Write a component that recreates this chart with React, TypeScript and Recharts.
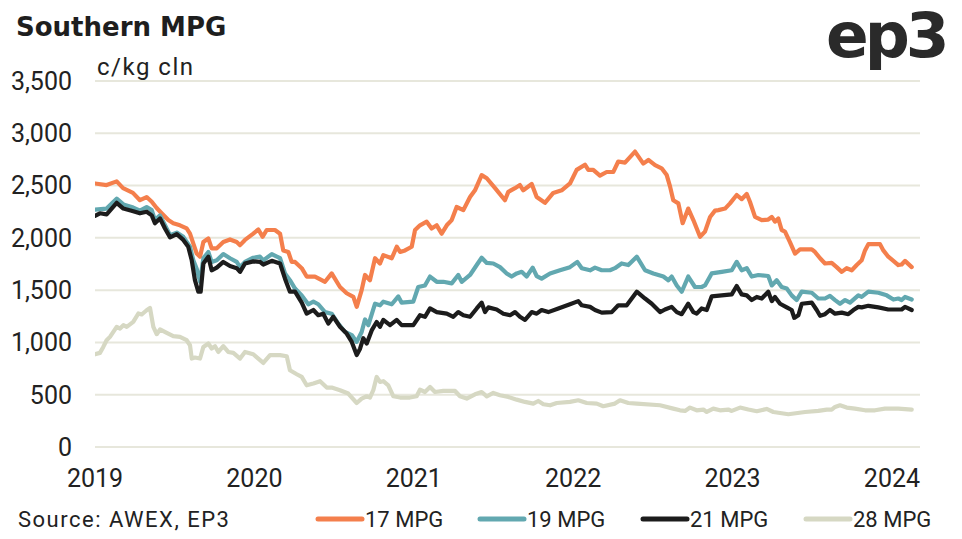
import React from 'react';
import { LineChart, Line, XAxis, YAxis, CartesianGrid } from 'recharts';

// ---- data (offset in years from 1 Jan 2019, c/kg clean) ----
const START_YEAR = 2019;
const xTicks = [2019, 2020, 2021, 2022, 2023, 2024];
const yTicks = [0, 500, 1000, 1500, 2000, 2500, 3000, 3500];
const seriesNames = ['17 MPG', '19 MPG', '21 MPG', '28 MPG'];
const seriesKeys = ['m17', 'm19', 'm21', 'm28'];
const seriesColors = ['#F47F4C', '#62A8B0', '#1C1C1C', '#D6D8C3'];

const mpg17: [number, number][] = [
  [0, 2520], [0.073, 2505], [0.136, 2540], [0.176, 2475], [0.238, 2430], [0.282, 2360], [0.324, 2390], [0.356, 2345], [0.387, 2285], [0.418, 2235], [0.46, 2170], [0.491, 2140], [0.533, 2120], [0.575, 2090], [0.596, 2040], [0.617, 1945], [0.638, 1850], [0.659, 1820], [0.68, 1960], [0.711, 1995], [0.732, 1900], [0.764, 1900], [0.805, 1960], [0.847, 1985], [0.889, 1960], [0.91, 1930], [0.941, 1980], [0.993, 2040], [1.025, 2080], [1.052, 2010], [1.077, 2075], [1.129, 2075], [1.161, 2040], [1.181, 1880], [1.213, 1865], [1.234, 1770], [1.255, 1770], [1.297, 1710], [1.328, 1630], [1.38, 1630], [1.443, 1580], [1.485, 1660], [1.537, 1530], [1.579, 1470], [1.621, 1435], [1.642, 1340], [1.673, 1500], [1.694, 1645], [1.725, 1595], [1.757, 1805], [1.788, 1755], [1.809, 1835], [1.862, 1805], [1.893, 1915], [1.914, 1865], [1.945, 1880], [1.987, 1915], [2.008, 2075], [2.039, 2120], [2.081, 2155], [2.112, 2090], [2.144, 2120], [2.175, 2040], [2.207, 2120], [2.238, 2170], [2.269, 2295], [2.311, 2265], [2.353, 2390], [2.384, 2455], [2.426, 2600], [2.458, 2570], [2.51, 2475], [2.572, 2360], [2.593, 2440], [2.635, 2475], [2.666, 2505], [2.687, 2455], [2.74, 2515], [2.771, 2390], [2.823, 2335], [2.875, 2430], [2.928, 2455], [2.98, 2520], [3.022, 2650], [3.074, 2700], [3.095, 2650], [3.126, 2650], [3.168, 2595], [3.21, 2630], [3.252, 2630], [3.283, 2730], [3.325, 2720], [3.388, 2825], [3.44, 2710], [3.472, 2745], [3.514, 2695], [3.555, 2665], [3.587, 2600], [3.608, 2490], [3.628, 2360], [3.66, 2330], [3.687, 2140], [3.722, 2280], [3.754, 2170], [3.796, 2010], [3.827, 2060], [3.859, 2200], [3.89, 2260], [3.911, 2265], [3.953, 2280], [3.984, 2330], [4.026, 2410], [4.057, 2370], [4.089, 2420], [4.109, 2345], [4.141, 2200], [4.183, 2170], [4.224, 2175], [4.246, 2200], [4.266, 2155], [4.287, 2185], [4.308, 2075], [4.329, 2060], [4.36, 1960], [4.392, 1850], [4.423, 1890], [4.497, 1890], [4.517, 1865], [4.549, 1805], [4.58, 1755], [4.622, 1760], [4.653, 1720], [4.685, 1675], [4.716, 1710], [4.748, 1690], [4.779, 1740], [4.81, 1785], [4.831, 1880], [4.852, 1940], [4.925, 1940], [4.946, 1880], [4.977, 1820], [5.009, 1780], [5.04, 1740], [5.061, 1745], [5.082, 1780], [5.124, 1720],
];

const mpg19: [number, number][] = [
  [0, 2270], [0.073, 2280], [0.136, 2375], [0.178, 2320], [0.24, 2290], [0.282, 2260], [0.324, 2295], [0.356, 2265], [0.376, 2170], [0.408, 2215], [0.439, 2120], [0.471, 2025], [0.513, 2050], [0.554, 2010], [0.596, 1915], [0.617, 1785], [0.638, 1705], [0.659, 1580], [0.68, 1805], [0.711, 1865], [0.732, 1770], [0.764, 1785], [0.805, 1845], [0.847, 1805], [0.889, 1770], [0.91, 1720], [0.941, 1770], [0.993, 1810], [1.035, 1820], [1.056, 1785], [1.109, 1845], [1.161, 1805], [1.192, 1660], [1.223, 1595], [1.255, 1515], [1.297, 1450], [1.338, 1365], [1.37, 1390], [1.401, 1365], [1.443, 1290], [1.485, 1275], [1.526, 1180], [1.569, 1100], [1.611, 1070], [1.642, 1005], [1.673, 1100], [1.694, 1220], [1.715, 1165], [1.757, 1370], [1.788, 1355], [1.809, 1390], [1.862, 1365], [1.903, 1440], [1.924, 1380], [1.997, 1390], [2.028, 1530], [2.07, 1545], [2.102, 1630], [2.144, 1580], [2.185, 1580], [2.238, 1565], [2.279, 1645], [2.301, 1580], [2.353, 1645], [2.395, 1740], [2.426, 1810], [2.458, 1760], [2.499, 1755], [2.541, 1720], [2.583, 1660], [2.614, 1630], [2.646, 1660], [2.677, 1675], [2.708, 1630], [2.746, 1715], [2.771, 1635], [2.802, 1610], [2.855, 1660], [2.917, 1690], [2.98, 1720], [3.026, 1770], [3.054, 1710], [3.106, 1690], [3.137, 1715], [3.179, 1690], [3.231, 1690], [3.262, 1710], [3.304, 1755], [3.346, 1740], [3.399, 1820], [3.451, 1690], [3.503, 1660], [3.566, 1630], [3.597, 1595], [3.618, 1630], [3.65, 1545], [3.681, 1485], [3.722, 1630], [3.764, 1530], [3.806, 1530], [3.827, 1545], [3.869, 1660], [3.932, 1675], [3.995, 1690], [4.026, 1770], [4.057, 1690], [4.089, 1710], [4.12, 1630], [4.162, 1645], [4.224, 1635], [4.246, 1545], [4.277, 1595], [4.308, 1530], [4.34, 1515], [4.371, 1450], [4.402, 1405], [4.434, 1485], [4.497, 1475], [4.538, 1420], [4.58, 1420], [4.611, 1445], [4.643, 1405], [4.674, 1370], [4.706, 1405], [4.737, 1380], [4.789, 1450], [4.81, 1435], [4.852, 1485], [4.915, 1475], [4.967, 1450], [5.009, 1410], [5.04, 1420], [5.061, 1405], [5.082, 1435], [5.124, 1410],
];

const mpg21: [number, number][] = [
  [0, 2210], [0.031, 2235], [0.073, 2225], [0.136, 2335], [0.178, 2280], [0.24, 2255], [0.282, 2235], [0.324, 2250], [0.356, 2215], [0.376, 2140], [0.408, 2185], [0.439, 2090], [0.471, 2005], [0.513, 2035], [0.554, 1980], [0.585, 1915], [0.607, 1785], [0.627, 1595], [0.648, 1485], [0.663, 1485], [0.68, 1755], [0.711, 1820], [0.732, 1690], [0.764, 1715], [0.805, 1770], [0.847, 1730], [0.889, 1710], [0.91, 1675], [0.941, 1755], [0.993, 1775], [1.035, 1770], [1.056, 1745], [1.109, 1780], [1.161, 1755], [1.192, 1610], [1.223, 1485], [1.255, 1485], [1.297, 1380], [1.328, 1275], [1.37, 1310], [1.401, 1260], [1.432, 1275], [1.464, 1180], [1.495, 1245], [1.537, 1150], [1.579, 1085], [1.611, 1005], [1.642, 880], [1.663, 940], [1.683, 1040], [1.705, 990], [1.736, 1115], [1.767, 1195], [1.788, 1150], [1.809, 1215], [1.851, 1165], [1.893, 1215], [1.924, 1165], [1.997, 1165], [2.039, 1260], [2.07, 1245], [2.102, 1325], [2.144, 1290], [2.207, 1275], [2.248, 1245], [2.279, 1290], [2.311, 1260], [2.353, 1245], [2.395, 1325], [2.426, 1380], [2.447, 1290], [2.468, 1335], [2.52, 1315], [2.562, 1275], [2.604, 1260], [2.635, 1290], [2.666, 1245], [2.698, 1215], [2.74, 1290], [2.771, 1275], [2.802, 1310], [2.844, 1290], [2.907, 1325], [2.98, 1365], [3.032, 1395], [3.054, 1355], [3.106, 1340], [3.137, 1310], [3.179, 1285], [3.242, 1290], [3.283, 1355], [3.336, 1355], [3.399, 1485], [3.451, 1420], [3.493, 1370], [3.545, 1290], [3.576, 1315], [3.618, 1340], [3.65, 1290], [3.681, 1270], [3.722, 1370], [3.754, 1290], [3.775, 1275], [3.806, 1325], [3.838, 1310], [3.869, 1440], [3.932, 1450], [3.995, 1460], [4.026, 1540], [4.057, 1460], [4.089, 1450], [4.12, 1405], [4.152, 1435], [4.183, 1420], [4.224, 1485], [4.246, 1395], [4.266, 1435], [4.298, 1370], [4.34, 1335], [4.371, 1310], [4.387, 1235], [4.413, 1260], [4.434, 1370], [4.497, 1380], [4.528, 1310], [4.549, 1255], [4.58, 1270], [4.611, 1310], [4.643, 1275], [4.685, 1285], [4.726, 1270], [4.758, 1310], [4.789, 1340], [4.81, 1335], [4.852, 1350], [4.915, 1335], [4.977, 1315], [5.061, 1315], [5.082, 1340], [5.124, 1310],
];

const mpg28: [number, number][] = [
  [0, 887], [0.031, 900], [0.052, 957], [0.073, 1021], [0.094, 1053], [0.136, 1149], [0.157, 1133], [0.178, 1165], [0.199, 1149], [0.24, 1196], [0.272, 1277], [0.293, 1267], [0.324, 1308], [0.345, 1330], [0.366, 1149], [0.387, 1079], [0.408, 1124], [0.45, 1091], [0.491, 1060], [0.533, 1053], [0.575, 1021], [0.596, 973], [0.607, 846], [0.627, 856], [0.659, 846], [0.68, 957], [0.711, 990], [0.732, 942], [0.753, 964], [0.774, 909], [0.805, 964], [0.836, 909], [0.868, 900], [0.91, 846], [0.941, 909], [0.993, 887], [1.056, 804], [1.098, 878], [1.161, 878], [1.203, 868], [1.223, 734], [1.266, 696], [1.297, 670], [1.328, 590], [1.37, 607], [1.412, 629], [1.454, 568], [1.485, 568], [1.537, 543], [1.589, 511], [1.642, 421], [1.673, 463], [1.705, 485], [1.725, 473], [1.746, 543], [1.767, 670], [1.788, 622], [1.809, 629], [1.84, 590], [1.872, 485], [1.914, 473], [1.976, 473], [2.018, 485], [2.039, 549], [2.07, 526], [2.102, 574], [2.133, 526], [2.185, 536], [2.259, 536], [2.29, 485], [2.332, 463], [2.384, 504], [2.426, 526], [2.458, 485], [2.499, 517], [2.541, 495], [2.593, 479], [2.646, 453], [2.698, 431], [2.75, 415], [2.781, 440], [2.813, 409], [2.855, 399], [2.897, 421], [2.98, 431], [3.032, 447], [3.085, 421], [3.148, 415], [3.189, 390], [3.262, 415], [3.294, 447], [3.346, 421], [3.399, 415], [3.545, 399], [3.628, 367], [3.67, 351], [3.702, 345], [3.733, 377], [3.775, 351], [3.817, 358], [3.838, 335], [3.879, 367], [3.921, 351], [3.973, 358], [3.995, 345], [4.047, 377], [4.099, 358], [4.152, 342], [4.214, 364], [4.256, 335], [4.35, 313], [4.455, 335], [4.538, 345], [4.591, 358], [4.622, 358], [4.643, 383], [4.674, 399], [4.716, 377], [4.768, 367], [4.831, 351], [4.894, 351], [4.956, 367], [5.04, 367], [5.124, 358],
];

const seriesPoints = [mpg17, mpg19, mpg21, mpg28];

function buildRows() {
  const map = new Map<string, any>();
  seriesPoints.forEach((pts, i) => {
    pts.forEach(([dt, v]) => {
      const t = +(START_YEAR + dt).toFixed(3);
      const k = t.toFixed(3);
      if (!map.has(k)) map.set(k, { t });
      map.get(k)[seriesKeys[i]] = v;
    });
  });
  return Array.from(map.values()).sort((a, b) => a.t - b.t);
}

const rows = buildRows();
const drawOrder = [3, 0, 1, 2];
const legendX = [318, 480, 643, 806];

const tickFont = { fontFamily: 'Roboto, sans-serif', fontSize: 25, fill: '#222' };

export default function App() {
  return (
    <div style={{ position: 'absolute', left: 0, top: 0, width: 962, height: 539, background: '#fff', overflow: 'hidden' }}>
      <div style={{ position: 'absolute', left: 0, top: 0 }}>
        <LineChart width={962} height={539} data={rows} margin={{ top: 81, right: 42, left: 0, bottom: 52 }}>
          <CartesianGrid horizontal vertical={false} stroke="#E7E7DC" strokeWidth={2} />
          <XAxis
            dataKey="t"
            type="number"
            domain={[2019, 2024.176]}
            ticks={xTicks}
            allowDataOverflow
            axisLine={false}
            tickLine={false}
            tickSize={0}
            tickMargin={22}
            height={40}
            tick={tickFont}
            interval={0}
          />
          <YAxis
            type="number"
            domain={[0, 3500]}
            ticks={yTicks}
            axisLine={false}
            tickLine={false}
            tickSize={0}
            tickMargin={23}
            width={95}
            tick={tickFont}
            interval={0}
            tickFormatter={(v: number) => v.toLocaleString('en-US')}
          />
          {drawOrder.map((i) => (
            <Line
              key={seriesKeys[i]}
              type="linear"
              dataKey={seriesKeys[i]}
              name={seriesNames[i]}
              stroke={seriesColors[i]}
              strokeWidth={4.2}
              strokeLinejoin="round"
              strokeLinecap="round"
              dot={false}
              activeDot={false}
              connectNulls
              isAnimationActive={false}
            />
          ))}
        </LineChart>
      </div>
      <svg width={962} height={539} style={{ position: 'absolute', left: 0, top: 0, pointerEvents: 'none' }}>
        <text x={16} y={36} fontFamily="'DejaVu Sans', sans-serif" fontWeight={700} fontSize={26} fill="#1E1E1E">Southern MPG</text>
        <text x={97} y={75} fontFamily="Roboto, sans-serif" fontSize={24} letterSpacing={1.5} fill="#222">c/kg cln</text>
        <text x={826} y={57} fontFamily="'DejaVu Sans', sans-serif" fontWeight={700} fontSize={63} letterSpacing={-4} fill="#2A2A2A">ep3</text>
        <text x={18} y={527} fontFamily="Roboto, sans-serif" fontSize={22} letterSpacing={1.5} fill="#222">Source: AWEX, EP3</text>
        {seriesNames.map((name, i) => (
          <g key={name}>
            <line x1={legendX[i]} x2={legendX[i] + 44} y1={519} y2={519} stroke={seriesColors[i]} strokeWidth={5} strokeLinecap="round" />
            <text x={legendX[i] + 47} y={527} fontFamily="Roboto, sans-serif" fontSize={22} fill="#222">{name}</text>
          </g>
        ))}
      </svg>
    </div>
  );
}
